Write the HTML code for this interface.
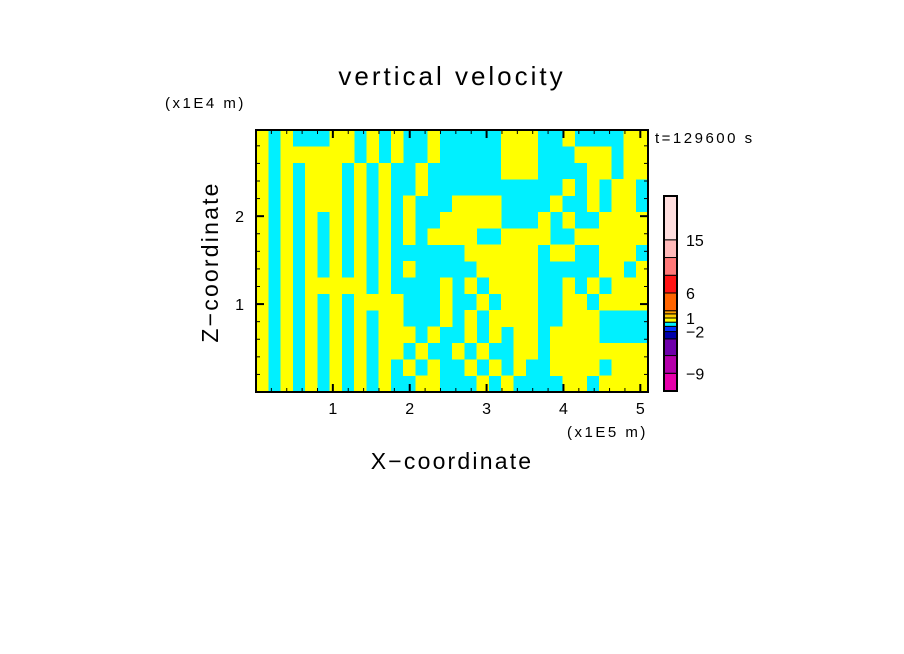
<!DOCTYPE html>
<html><head><meta charset="utf-8"><style>
html,body{margin:0;padding:0;background:#fff;}
svg{display:block;font-family:"Liberation Sans",sans-serif;}
</style></head><body>
<svg id="chart" width="904" height="654" viewBox="0 0 904 654">
<text x="452" y="85" text-anchor="middle" font-size="26" letter-spacing="3" fill="#000">vertical velocity</text>
<text x="165" y="108" font-size="15" letter-spacing="2.5" fill="#000">(x1E4 m)</text>
<text x="567" y="437" font-size="15" letter-spacing="2.5" fill="#000">(x1E5 m)</text>
<text x="655" y="143" font-size="15" letter-spacing="2.5" fill="#000">t=129600 s</text>
<text x="452" y="469" text-anchor="middle" font-size="23" letter-spacing="2.2" fill="#000">X−coordinate</text>
<text transform="translate(218,262) rotate(-90)" text-anchor="middle" font-size="23" letter-spacing="2.2" fill="#000">Z−coordinate</text>
<g id="field"></g>
<g id="axes"></g>
<g id="cbar"></g>
</svg>
<script>
const fieldRows = [
"10100011010100100000111001000011",
"10111111010100100000111000111011",
"10101110101001000000111000011011",
"10101110101001000000000001010110",
"10101110101010001111000010010110",
"10101010101010011111000101001111",
"10101010101010111100111100111111",
"10101010101000000111111011001110",
"10101010101010000011111000001101",
"10101111101000010101111001010111",
"10101010111100010010111001101111",
"10101010101100010101111001110000",
"10101010101110100101011011110000",
"10101010101101001010011011111111",
"10101010101010100101010011110111",
"10101010101001100010100001101111"
];
const xTicks = [1,2,3,4,5];
const yTicks = [1,2];
const cbarLevels = [-12,-9,-6,-3,-2,-1,0,1,2,3,6,9,12,15,21];
const cbarColors = ["#e600aa","#b400aa","#6e00aa","#0000aa","#0032ff","#00f0ff","#ffff00","#ffcc00","#ffa000","#ff6400","#ff1414","#ff7878","#ffb9b9","#ffdede"];
const cbarLabels = [-9,-2,1,6,15];

const NS="http://www.w3.org/2000/svg";
const X0=256,X1=648,Y0=130,Y1=392;
const xMin=0,xMax=5.1,zMin=0,zMax=2.98;
const xs=v=>X0+(v-xMin)/(xMax-xMin)*(X1-X0);
const ys=v=>Y1-(v-zMin)/(zMax-zMin)*(Y1-Y0);
function mk(tag,attrs,parent){const e=document.createElementNS(NS,tag);for(const k in attrs)e.setAttribute(k,attrs[k]);parent.appendChild(e);return e;}

const field=document.getElementById('field');
const nr=fieldRows.length,nc=fieldRows[0].length;
const cw=(X1-X0)/nc,ch=(Y1-Y0)/nr;
const bg=mk('rect',{x:X0,y:Y0,width:X1-X0,height:Y1-Y0,fill:'#00f0ff'},field);


for(let r=0;r<nr;r++){for(let c=0;c<nc;c++){if(fieldRows[r][c]==='1'){
 const cell=mk('rect',{x:X0+c*cw,y:Y0+r*ch,width:cw+0.3,height:ch+0.3,fill:'#ffff00','shape-rendering':'crispEdges'},field);
 
 
}}}

const axes=document.getElementById('axes');
const frame=mk('rect',{x:X0,y:Y0,width:X1-X0,height:Y1-Y0,fill:'none',stroke:'#000','stroke-width':2},axes);


for(let i=1;i<=25;i++){const v=i*0.2;const x=xs(v);const major=i%5===0;const L=major?8:4;
 mk('line',{x1:x,y1:Y1,x2:x,y2:Y1-L,stroke:'#000','stroke-width':major?2:1},axes);
 mk('line',{x1:x,y1:Y0,x2:x,y2:Y0+L,stroke:'#000','stroke-width':major?2:1},axes);}
for(let i=1;i<=14;i++){const v=i*0.2;const y=ys(v);const major=i%5===0;const L=major?8:4;
 mk('line',{x1:X0,y1:y,x2:X0+L,y2:y,stroke:'#000','stroke-width':major?2:1},axes);
 mk('line',{x1:X1,y1:y,x2:X1-L,y2:y,stroke:'#000','stroke-width':major?2:1},axes);}
xTicks.forEach(v=>{const t=mk('text',{x:xs(v),y:414,'text-anchor':'middle','font-size':16},axes);t.textContent=v;
 
 });
yTicks.forEach(v=>{const t=mk('text',{x:244,y:ys(v)+6,'text-anchor':'end','font-size':16},axes);t.textContent=v;
 
 });

const cb=document.getElementById('cbar');
const CB0=196,CB1=391,CX=664,CW=13;
const bandH=[17,17,16,7,5,4,4,4,3,17,17,17,17,42];
const bandTotal=bandH.reduce((a,b)=>a+b,0);
const bandY=[];let acc=CB1;
for(let i=0;i<cbarColors.length;i++){const h=bandH[i]/bandTotal*(CB1-CB0);bandY.push(acc);
 const r=mk('rect',{x:CX,y:acc-h,width:CW,height:h,fill:cbarColors[i],stroke:'#000','stroke-width':1},cb);
 
 
 acc-=h;}
bandY.push(acc);
const cframe=mk('rect',{x:CX,y:CB0,width:CW,height:CB1-CB0,fill:'none',stroke:'#000','stroke-width':2},cb);


cbarLabels.forEach(v=>{const i=cbarLevels.indexOf(v);const y=bandY[i];
 const t=mk('text',{x:686,y:y+6,'font-size':16},cb);t.textContent=(v<0?'−'+(-v):v);
 
 });
</script>
</body></html>
